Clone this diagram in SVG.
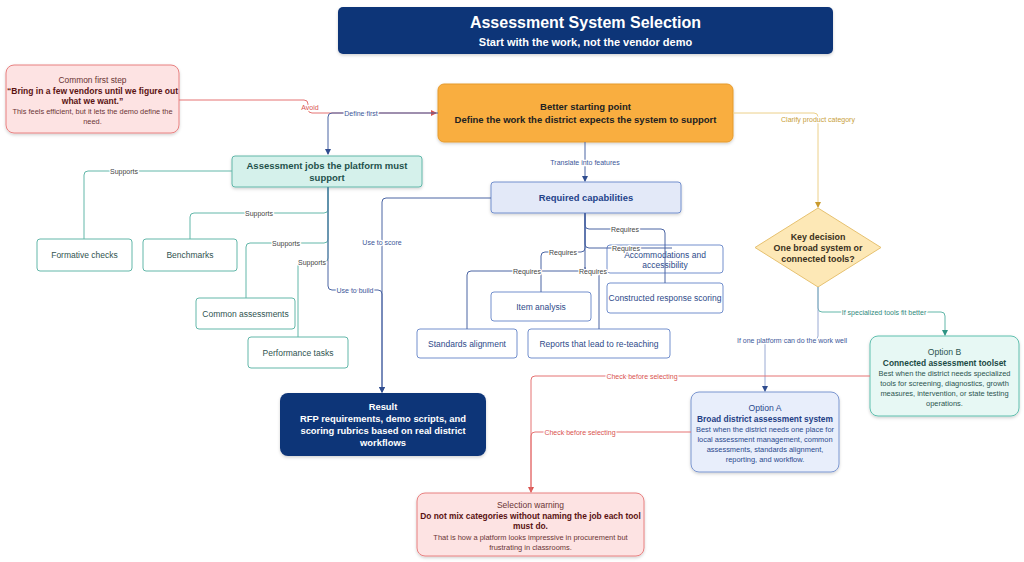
<svg xmlns="http://www.w3.org/2000/svg" width="1024" height="562" viewBox="0 0 1024 562">
<defs>
<filter id="sh" x="-10%" y="-10%" width="120%" height="130%"><feDropShadow dx="0" dy="1.5" stdDeviation="1.5" flood-color="#000" flood-opacity="0.18"/></filter>
<marker id="aNavy" markerWidth="6" markerHeight="6" refX="5" refY="3" orient="auto" markerUnits="userSpaceOnUse"><path d="M0,0 L6,3 L0,6 Z" fill="#2f4c8f"/></marker>
<marker id="aRed" markerWidth="6" markerHeight="6" refX="5" refY="3" orient="auto" markerUnits="userSpaceOnUse"><path d="M0,0 L6,3 L0,6 Z" fill="#d9534f"/></marker>
<marker id="aGold" markerWidth="6" markerHeight="6" refX="5" refY="3" orient="auto" markerUnits="userSpaceOnUse"><path d="M0,0 L6,3 L0,6 Z" fill="#c99a2e"/></marker>
<marker id="aTeal" markerWidth="6" markerHeight="6" refX="5" refY="3" orient="auto" markerUnits="userSpaceOnUse"><path d="M0,0 L6,3 L0,6 Z" fill="#2f9484"/></marker>
</defs>
<style>
text{font-family:"Liberation Sans",Arial,sans-serif;text-anchor:middle}
.e{fill:none;stroke-width:1}
.navy{stroke:#4a64a3}
.lnavy{stroke:#9aaad3}
.red{stroke:#e57373}
.gold{stroke:#ecd08a}
.teal{stroke:#62b7a9}
.lbl{font-size:7px;stroke:#fff;stroke-width:2.5;paint-order:stroke;stroke-linejoin:round}
.ln{fill:#3d5799}.lr{fill:#d9534f}.lg{fill:#c8a03a}.lt{fill:#2f8a7c}.lk{fill:#444}
.tc{fill:#fff;stroke:#62b7a9}
.bc{fill:#fff;stroke:#728fcd}
.tct{font-size:8.5px;fill:#2f5350}
.bct{font-size:8.5px;fill:#2e4a8a}
</style>

<g id="title">
<rect x="338" y="7" width="495" height="47" rx="5" fill="#0c3478" filter="url(#sh)"/>
<text x="585.5" y="28" font-size="16" font-weight="bold" fill="#fff">Assessment System Selection</text>
<text x="585.5" y="46" font-size="11" font-weight="bold" fill="#fff">Start with the work, not the vendor demo</text>
</g>

<g id="common-first-step">
<rect x="6" y="65" width="173" height="68" rx="8" fill="#fde3e3" stroke="#e88080" filter="url(#sh)"/>
<text x="92.5" y="83" font-size="8.4" fill="#6b3535">Common first step</text>
<text x="92.5" y="93.5" font-size="8.5" font-weight="bold" fill="#5a1212">“Bring in a few vendors until we figure out</text>
<text x="92.5" y="104" font-size="8.5" font-weight="bold" fill="#5a1212">what we want.”</text>
<text x="92.5" y="114" font-size="7.4" fill="#6b3535">This feels efficient, but it lets the demo define the</text>
<text x="92.5" y="124" font-size="7.4" fill="#6b3535">need.</text>
</g>

<g id="better-starting-point">
<rect x="438" y="84" width="295" height="58" rx="6" fill="#f9ae3f" stroke="#e59a2d" filter="url(#sh)"/>
<text x="585.5" y="110" font-size="9.5" font-weight="bold" fill="#222">Better starting point</text>
<text x="585.5" y="123" font-size="9.5" font-weight="bold" fill="#222">Define the work the district expects the system to support</text>
</g>

<g id="assessment-jobs">
<rect x="232" y="156" width="190" height="31" rx="3" fill="#d5f1eb" stroke="#62b7a9" filter="url(#sh)"/>
<text x="327" y="169" font-size="9.5" font-weight="bold" fill="#1f514b">Assessment jobs the platform must</text>
<text x="327" y="181" font-size="9.5" font-weight="bold" fill="#1f514b">support</text>
</g>

<g id="formative-checks"><rect class="tc" x="37" y="239" width="95" height="32" rx="3"/><text class="tct" x="84.5" y="258">Formative checks</text></g>
<g id="benchmarks"><rect class="tc" x="143" y="239" width="94" height="32" rx="3"/><text class="tct" x="190" y="258">Benchmarks</text></g>
<g id="common-assessments"><rect class="tc" x="196" y="298" width="99" height="31" rx="3"/><text class="tct" x="245.5" y="317">Common assessments</text></g>
<g id="performance-tasks"><rect class="tc" x="248" y="337" width="100" height="31" rx="3"/><text class="tct" x="298" y="356">Performance tasks</text></g>

<g id="required-capabilities">
<rect x="491" y="182" width="190" height="31" rx="3" fill="#e3e9f8" stroke="#728fcd" filter="url(#sh)"/>
<text x="586" y="201" font-size="9.4" font-weight="bold" fill="#23438a">Required capabilities</text>
</g>

<g id="accommodations"><rect class="bc" x="607" y="245" width="116" height="28" rx="3"/><text class="bct" x="665" y="258">Accommodations and</text><text class="bct" x="665" y="268">accessibility</text></g>
<g id="constructed-response"><rect class="bc" x="607" y="283" width="116" height="30" rx="3"/><text class="bct" x="665" y="301">Constructed response scoring</text></g>
<g id="item-analysis"><rect class="bc" x="491" y="292" width="100" height="29" rx="3"/><text class="bct" x="541" y="310">Item analysis</text></g>
<g id="standards-alignment"><rect class="bc" x="417" y="329" width="100" height="29" rx="3"/><text class="bct" x="467" y="347">Standards alignment</text></g>
<g id="reports"><rect class="bc" x="528" y="329" width="142" height="29" rx="3"/><text class="bct" x="599" y="347">Reports that lead to re-teaching</text></g>

<g id="key-decision">
<polygon points="818,208 881,247.5 818,287 755,247.5" fill="#fde8b6" stroke="#e6c170"/>
<text x="818" y="240" font-size="8.9" font-weight="bold" fill="#3a3020">Key decision</text>
<text x="818" y="251" font-size="8.9" font-weight="bold" fill="#3a3020">One broad system or</text>
<text x="818" y="262" font-size="8.9" font-weight="bold" fill="#3a3020">connected tools?</text>
</g>

<g id="option-b">
<rect x="870" y="336" width="149" height="80" rx="8" fill="#e7f8f4" stroke="#5fbfae" filter="url(#sh)"/>
<text x="944.5" y="355" font-size="8.6" fill="#2c5550">Option B</text>
<text x="944.5" y="365.5" font-size="8.4" font-weight="bold" fill="#1b4a44">Connected assessment toolset</text>
<text x="944.5" y="376" font-size="7.45" fill="#2c5550">Best when the district needs specialized</text>
<text x="944.5" y="386" font-size="7.45" fill="#2c5550">tools for screening, diagnostics, growth</text>
<text x="944.5" y="396" font-size="7.45" fill="#2c5550">measures, intervention, or state testing</text>
<text x="944.5" y="406" font-size="7.45" fill="#2c5550">operations.</text>
</g>

<g id="option-a">
<rect x="691" y="392" width="148" height="80" rx="8" fill="#e8eefb" stroke="#7b96d0" filter="url(#sh)"/>
<text x="765" y="411" font-size="8.6" fill="#2a4a8e">Option A</text>
<text x="765" y="421.5" font-size="8.4" font-weight="bold" fill="#1f3f85">Broad district assessment system</text>
<text x="765" y="432" font-size="7.45" fill="#2a4a8e">Best when the district needs one place for</text>
<text x="765" y="442" font-size="7.45" fill="#2a4a8e">local assessment management, common</text>
<text x="765" y="452" font-size="7.45" fill="#2a4a8e">assessments, standards alignment,</text>
<text x="765" y="462" font-size="7.45" fill="#2a4a8e">reporting, and workflow.</text>
</g>

<g id="result">
<rect x="280" y="393" width="206" height="63" rx="8" fill="#0c3478" filter="url(#sh)"/>
<text x="383" y="410" font-size="9.4" font-weight="bold" fill="#fff">Result</text>
<text x="383" y="422" font-size="9.4" font-weight="bold" fill="#fff">RFP requirements, demo scripts, and</text>
<text x="383" y="434" font-size="9.4" font-weight="bold" fill="#fff">scoring rubrics based on real district</text>
<text x="383" y="446" font-size="9.4" font-weight="bold" fill="#fff">workflows</text>
</g>

<g id="selection-warning">
<rect x="417" y="493" width="227" height="63" rx="8" fill="#fde3e3" stroke="#e88080" filter="url(#sh)"/>
<text x="530.5" y="508" font-size="8.5" fill="#6b3535">Selection warning</text>
<text x="530.5" y="518.5" font-size="8.4" font-weight="bold" fill="#5a1212">Do not mix categories without naming the job each tool</text>
<text x="530.5" y="529" font-size="8.4" font-weight="bold" fill="#5a1212">must do.</text>
<text x="530.5" y="539.5" font-size="7.45" fill="#6b3535">That is how a platform looks impressive in procurement but</text>
<text x="530.5" y="549.5" font-size="7.45" fill="#6b3535">frustrating in classrooms.</text>
</g>

<g id="connectors">
<path class="e red" d="M179,100 H304 Q308,100 308,104 V109 Q308,113 312,113 H436" marker-end="url(#aRed)"/>
<path class="e navy" d="M438,113 H332 Q328,113 328,117 V154" marker-end="url(#aNavy)"/>
<path class="e gold" d="M733,113 H814 Q818,113 818,117 V207" marker-end="url(#aGold)"/>
<path class="e navy" d="M585,142 V181" marker-end="url(#aNavy)"/>

<path class="e teal" d="M232,171 H88 Q84,171 84,175 V239"/>
<path class="e teal" d="M328,187 V209 Q328,213 324,213 H194 Q190,213 190,217 V239"/>
<path class="e teal" d="M328,187 V239 Q328,243 324,243 H250 Q246,243 246,247 V298"/>
<path class="e teal" d="M328,187 V258 Q328,262 324,262 H302 Q298,262 298,266 V337"/>
<path class="e navy" d="M328,187 V286 Q328,290 332,290 H378 Q382,290 382,294 V392" marker-end="url(#aNavy)"/>
<path class="e navy" d="M491,198 H386 Q382,198 382,202 V392" marker-end="url(#aNavy)"/>

<path class="e navy" d="M585,213 V225 Q585,229 589,229 H661 Q665,229 665,233 V283"/>
<path class="e navy" d="M585,213 V244 Q585,248 589,248 H672"/>
<path class="e navy" d="M585,213 V248 Q585,252 581,252 H545 Q541,252 541,256 V292"/>
<path class="e navy" d="M585,213 V267 Q585,271 581,271 H471 Q467,271 467,275 V329"/>
<path class="e navy" d="M585,267 Q585,271 589,271 H595 Q599,271 599,275 V329"/>

<path class="e teal" d="M818,287 V308 Q818,312 822,312 H941 Q945,312 945,316 V335" marker-end="url(#aTeal)"/>
<path class="e lnavy" d="M818,287 V336 Q818,340 814,340 H769 Q765,340 765,344 V391" marker-end="url(#aNavy)"/>

<path class="e red" d="M870,376 H535 Q531,376 531,380 V492" marker-end="url(#aRed)"/>
<path class="e red" d="M691,432 H535 Q531,432 531,436 V492"/>

<text class="lbl lr" x="310" y="110">Avoid</text>
<text class="lbl ln" x="361" y="115.5">Define first</text>
<text class="lbl lg" x="818" y="122">Clarify product category</text>
<text class="lbl ln" x="585" y="164.5">Translate into features</text>
<text class="lbl lk" x="124" y="173.5">Supports</text>
<text class="lbl lk" x="259" y="215.5">Supports</text>
<text class="lbl lk" x="286" y="245.5">Supports</text>
<text class="lbl lk" x="312" y="264.5">Supports</text>
<text class="lbl ln" x="355" y="292.5">Use to build</text>
<text class="lbl ln" x="382" y="244.5">Use to score</text>
<text class="lbl lk" x="625" y="231.5">Requires</text>
<text class="lbl lk" x="626" y="250.5">Requires</text>
<text class="lbl lk" x="563" y="254.5">Requires</text>
<text class="lbl lk" x="527" y="273.5">Requires</text>
<text class="lbl lk" x="593" y="273.5">Requires</text>
<text class="lbl lt" x="884" y="314.5">If specialized tools fit better</text>
<text class="lbl ln" x="792" y="342.5">If one platform can do the work well</text>
<text class="lbl lr" x="642" y="378.5">Check before selecting</text>
<text class="lbl lr" x="580" y="434.5">Check before selecting</text>
</g>
</svg>
